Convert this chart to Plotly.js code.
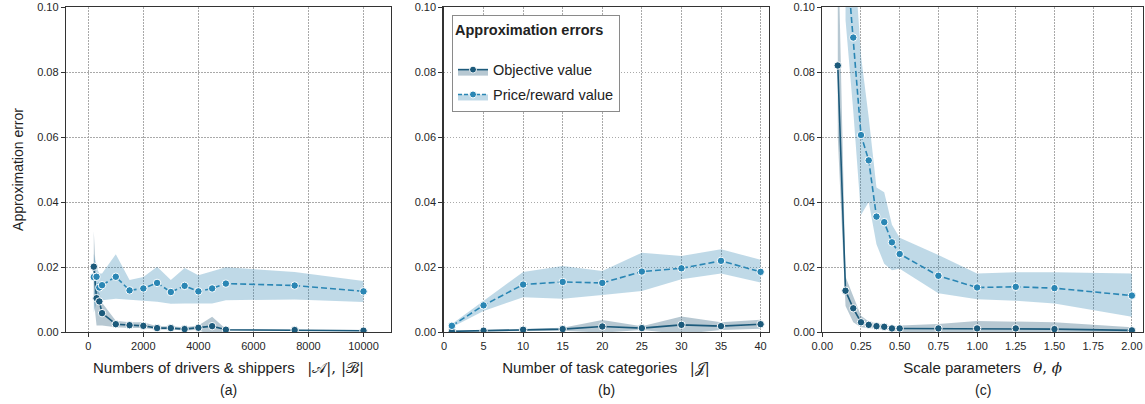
<!DOCTYPE html>
<html>
<head>
<meta charset="utf-8">
<script src="https://cdn.plot.ly/plotly-3.0.1.min.js"></script>
<style>
html,body{margin:0;padding:0;background:#fff;}
#chart{width:1145px;height:404px;}
</style>
</head>
<body>
<div id="chart"></div>
<script>
// ---------- Panel (a): numbers of drivers & shippers ----------
const A_x      = [200,300,400,500,1000,1500,2000,2500,3000,3500,4000,4500,5000,7500,10000];
const A_obj    = [0.0201,0.0104,0.0094,0.0058,0.0024,0.0021,0.0019,0.0012,0.0012,0.0009,0.0013,0.0018,0.0007,0.0006,0.0004];
const A_obj_lo = [0.0100,0.0020,0.0020,0.0020,0.0015,0.0012,0.0012,0.0007,0.0008,0.0005,0.0006,-0.0012,0.0005,0.0004,0.0002];
const A_obj_hi = [0.0310,0.0140,0.0120,0.0090,0.0035,0.0030,0.0030,0.0018,0.0018,0.0015,0.0020,0.0047,0.0009,0.0008,0.0006];
const A_pr     = [0.0169,0.0170,0.0137,0.0144,0.0170,0.0128,0.0134,0.0151,0.0123,0.0142,0.0125,0.0134,0.0149,0.0143,0.0125];
const A_pr_lo  = [0.0060,0.0090,0.0095,0.0098,0.0102,0.0098,0.0096,0.0093,0.0087,0.0088,0.0088,0.0088,0.0098,0.0100,0.0092];
const A_pr_hi  = [0.0240,0.0200,0.0180,0.0180,0.0239,0.0160,0.0169,0.0201,0.0160,0.0197,0.0175,0.0186,0.0199,0.0185,0.0157];

// ---------- Panel (b): number of task categories ----------
const B_x      = [1,5,10,15,20,25,30,35,40];
const B_obj    = [0.0002,0.0004,0.0007,0.0009,0.0017,0.0012,0.0022,0.0018,0.0024];
const B_obj_lo = [0.0001,0.0002,0.0004,0.0004,-0.0002,0.0006,-0.0006,0.0006,0.0010];
const B_obj_hi = [0.0003,0.0006,0.0010,0.0013,0.0037,0.0018,0.0048,0.0030,0.0038];
const B_pr     = [0.0019,0.0082,0.0146,0.0154,0.0151,0.0186,0.0196,0.0219,0.0185];
const B_pr_lo  = [0.0015,0.0065,0.0107,0.0102,0.0114,0.0126,0.0162,0.0180,0.0152];
const B_pr_hi  = [0.0025,0.0095,0.0185,0.0203,0.0188,0.0244,0.0234,0.0255,0.0222];

// ---------- Panel (c): scale parameters ----------
const C_x      = [0.1,0.15,0.2,0.25,0.3,0.35,0.4,0.45,0.5,0.75,1.0,1.25,1.5,2.0];
const C_obj    = [0.082,0.0127,0.0073,0.0030,0.0022,0.0018,0.0016,0.0011,0.0011,0.0011,0.0011,0.0011,0.0009,0.0005];
const C_obj_lo = [0.060,0.0080,0.0030,0.0015,0.0012,0.0010,0.0009,0.0005,0.0000,-0.0005,-0.0009,-0.0008,-0.0005,0.0000];
const C_obj_hi = [0.125,0.0170,0.0110,0.0050,0.0032,0.0026,0.0023,0.0017,0.0020,0.0025,0.0034,0.0033,0.0030,0.0015];
const C_px     = [0.15,0.2,0.25,0.3,0.35,0.4,0.45,0.5,0.75,1.0,1.25,1.5,2.0];
const C_pr     = [0.119,0.0906,0.0606,0.0528,0.0355,0.0338,0.0276,0.0240,0.0173,0.0137,0.0139,0.0135,0.0112];
const C_pr_lo  = [0.096,0.0680,0.0360,0.0400,0.0270,0.0210,0.0190,0.0195,0.0119,0.0101,0.0096,0.0088,0.0047];
const C_pr_hi  = [0.150,0.1200,0.0850,0.0660,0.0445,0.0430,0.0330,0.0290,0.0237,0.0180,0.0184,0.0184,0.0180];

const MATH = 'font-family:DejaVu Serif';
const X_TITLES = ['Numbers of drivers &amp; shippers   <span style="'+MATH+'">|𝒜|, |ℬ|</span>',
                  'Number of task categories   <span style="'+MATH+'">|𝒥|</span>',
                  'Scale parameters   <span style="'+MATH+'"><i>θ</i>, <i>ϕ</i></span>'];
const CAPTIONS = ['(a)','(b)','(c)'];
const Y_TITLE = 'Approximation error';
const SERIES_NAMES = ['Objective value','Price/reward value'];
const LEGEND_TITLE = 'Approximation errors';

const OBJ_COLOR = '#1c5a7b';
const PR_COLOR  = '#2a86b4';
const OBJ_FILL  = 'rgba(31,85,115,0.32)';
const PR_FILL   = 'rgba(44,130,175,0.30)';

const traces = [];
function band(x, lo, hi, fill, xa, ya){
  traces.push({x:x, y:lo, xaxis:xa, yaxis:ya, mode:'lines', line:{width:0, color:fill},
               showlegend:false, hoverinfo:'skip'});
  traces.push({x:x, y:hi, xaxis:xa, yaxis:ya, mode:'lines', line:{width:0, color:fill},
               fill:'tonexty', fillcolor:fill, showlegend:false, hoverinfo:'skip'});
}
function line(x, y, color, dash, xa, ya){
  traces.push({x:x, y:y, xaxis:xa, yaxis:ya, mode:'lines+markers',
               line:{color:color, width:1.6, dash:dash},
               marker:{color:color, size:7.5, line:{color:'#fff', width:1}},
               showlegend:false});
}
const panels = [
  [A_x, A_obj, A_obj_lo, A_obj_hi, A_x, A_pr, A_pr_lo, A_pr_hi],
  [B_x, B_obj, B_obj_lo, B_obj_hi, B_x, B_pr, B_pr_lo, B_pr_hi],
  [C_x, C_obj, C_obj_lo, C_obj_hi, C_px, C_pr, C_pr_lo, C_pr_hi]
];
panels.forEach((p,i)=>{
  const xa = i===0 ? 'x' : 'x'+(i+1);
  const ya = i===0 ? 'y' : 'y'+(i+1);
  band(p[0], p[2], p[3], OBJ_FILL, xa, ya);
  band(p[4], p[6], p[7], PR_FILL, xa, ya);
  line(p[0], p[1], OBJ_COLOR, 'solid', xa, ya);
  line(p[4], p[5], PR_COLOR, '6px,3px', xa, ya);
});
// legend entries
[[SERIES_NAMES[0], OBJ_COLOR, OBJ_FILL, 'solid'],[SERIES_NAMES[1], PR_COLOR, PR_FILL, '4px,2px']].forEach((s,k)=>{
  traces.push({x:[null], y:[null], xaxis:'x2', yaxis:'y2', name:s[0], mode:'lines+markers',
    fill:'toself', fillcolor:s[2], legendgroup:'g'+k,
    line:{color:s[1], width:1.6, dash:s[3]},
    marker:{color:s[1], size:7, line:{color:'#fff', width:1}}, showlegend:true});
});

const H = 404, W = 1145;
const yDom = [(H-332)/H, (H-7)/H];
const xDoms = [[66/W, 391/W],[443.5/W, 768.5/W],[822.3/W, 1143/W]];
const xRanges = [[-810, 11000],[-0.06, 41],[0, 2.072]];
const xTicks = [[0,2000,4000,6000,8000,10000],[0,5,10,15,20,25,30,35,40],[0,0.25,0.5,0.75,1,1.25,1.5,1.75,2]];
const xFmt = ['d','d','.2f'];

const FONT = 'Liberation Sans, Arial, sans-serif';
const layout = {
  width:W, height:H, margin:{l:0,r:0,t:0,b:0},
  paper_bgcolor:'#fff', plot_bgcolor:'#fff',
  font:{family:FONT, size:11, color:'#262626'},
  showlegend:true,
  legend:{x:452/W, y:(H-15)/H, xanchor:'left', yanchor:'top',
          bgcolor:'#fff', bordercolor:'#8a8a8a', borderwidth:1,
          title:{text:'<b>'+LEGEND_TITLE+'</b><br> ', font:{size:14.5, color:'#222'}},
          font:{size:14.5, color:'#222'}, tracegroupgap:3, itemwidth:30},
  annotations:[]
};
for(let i=0;i<3;i++){
  const s = i===0 ? '' : String(i+1);
  layout['xaxis'+s] = {
    domain:xDoms[i], anchor:'y'+s, range:xRanges[i], tickvals:xTicks[i], tickformat:xFmt[i],
    showgrid:true, gridcolor:'#a0a0a0', griddash:'1.5px,1.5px', gridwidth:0.9,
    showline:true, linecolor:'#333', linewidth:1.2, mirror:true,
    ticks:'outside', ticklen:4, tickcolor:'#333', zeroline:false,
    tickfont:{size:11, color:'#262626'},
    title:{text:X_TITLES[i], font:{size:15, color:'#222'}, standoff:11}
  };
  layout['yaxis'+s] = {
    domain:yDom, anchor:'x'+s, range:[0,0.1], tickvals:[0,0.02,0.04,0.06,0.08,0.1], tickformat:'.2f',
    showgrid:true, gridcolor:'#a0a0a0', griddash:'1.5px,1.5px', gridwidth:0.9,
    showline:true, linecolor:'#333', linewidth:1.2, mirror:true,
    ticks:'outside', ticklen:4, tickcolor:'#333', zeroline:false,
    tickfont:{size:11, color:'#262626'},
    title: i===0 ? {text:Y_TITLE, font:{size:14, color:'#222'}, standoff:10} : {text:''}
  };
  layout.annotations.push({text:CAPTIONS[i], xref:'paper', yref:'paper',
    x:(xDoms[i][0]+xDoms[i][1])/2, y:(H-390)/H, xanchor:'center', yanchor:'middle',
    showarrow:false, font:{size:14, color:'#222'}});
}
Plotly.newPlot('chart', traces, layout, {displayModeBar:false, staticPlot:true});
</script>
</body>
</html>
